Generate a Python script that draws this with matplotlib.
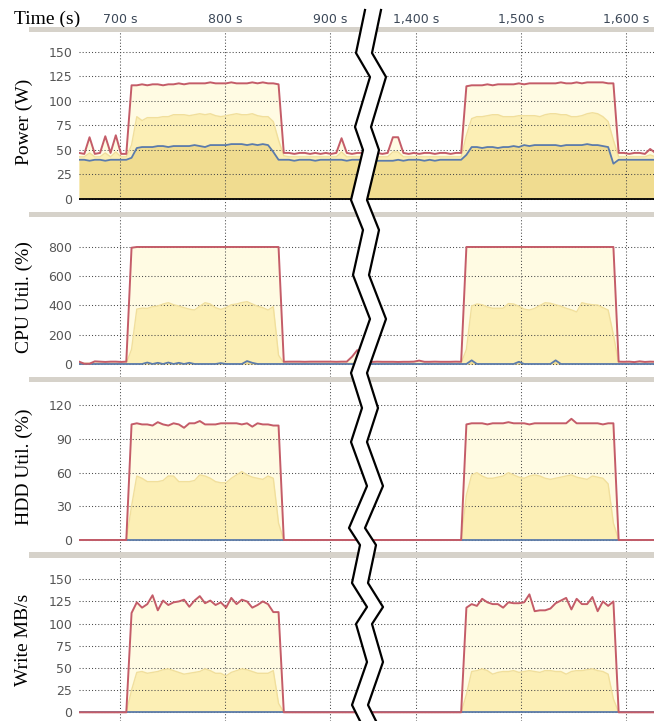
import numpy as np
import matplotlib.pyplot as plt
from matplotlib.patches import Rectangle

# sampling times (s) of the two windows shown
t_left = np.arange(661, 942, 5)
t_right = np.arange(1348, 1629, 5)

# ---- Power (W) ----
power_max_l = [47, 46, 63, 46, 47, 64, 47, 65, 46, 46,
               116, 116, 117, 116, 117, 117, 116, 117, 117, 118, 117, 118, 118, 118, 118,
               119, 118, 118, 118, 119, 118, 118, 118, 119, 118, 119, 118, 118, 117,
               47, 47, 46, 47, 47, 46, 47, 46, 47, 46, 47, 62, 47, 46, 47, 47, 46, 47]
power_mean_l = [43, 43, 47, 43, 43, 47, 43, 48, 43, 43,
                55, 84, 80, 83, 83, 83, 84, 84, 86, 86, 86, 85, 86, 87, 86,
                87, 85, 84, 85, 86, 87, 86, 86, 87, 85, 84, 84, 79, 60,
                44, 43, 43, 43, 43, 43, 43, 43, 43, 43, 43, 48, 43, 43, 43, 43, 43, 43]
power_min_l = [40, 40, 39, 40, 40, 39, 40, 40, 40, 40,
               42, 52, 53, 53, 53, 54, 54, 53, 54, 54, 54, 54, 55, 54, 53,
               55, 55, 55, 55, 56, 56, 56, 55, 56, 55, 56, 55, 48, 40,
               40, 40, 39, 40, 40, 40, 39, 40, 40, 40, 40, 40, 39, 40, 40, 40, 40, 40]
power_max_r = [47, 46, 47, 47, 46, 47, 63, 63, 47, 46, 47, 46, 47, 47, 46, 47, 47, 46, 47, 47,
               115, 116, 116, 116, 117, 116, 117, 117, 117, 117, 118, 117, 118, 118, 118,
               118, 118, 118, 119, 118, 118, 119, 118, 119, 119, 119, 119, 118, 118,
               47, 47, 46, 47, 47, 46, 51, 47]
power_mean_r = [43, 43, 43, 43, 43, 43, 48, 48, 43, 43, 43, 43, 43, 43, 43, 43, 43, 43, 43, 43,
                65, 82, 84, 84, 85, 86, 86, 84, 84, 84, 85, 85, 85, 85, 84,
                86, 87, 87, 86, 86, 84, 84, 85, 87, 88, 87, 84, 79, 60,
                43, 43, 43, 43, 43, 43, 45, 43]
power_min_r = [39, 39, 40, 39, 39, 39, 39, 40, 39, 40, 40, 40, 39, 40, 39, 40, 40, 40, 40, 40,
               45, 53, 53, 52, 53, 53, 52, 53, 53, 54, 53, 55, 54, 55, 55,
               55, 55, 55, 54, 55, 55, 55, 55, 56, 55, 55, 54, 53, 36,
               40, 40, 40, 40, 40, 40, 40, 40]

# ---- CPU Util. (%) ----
cpu_max_l = [16, 2, 2, 18, 16, 14, 16, 16, 14, 16,
             795, 800, 800, 800, 800, 800, 800, 800, 800, 800, 800, 800, 800, 800, 800,
             800, 800, 800, 800, 800, 800, 800, 800, 800, 800, 800, 800, 800, 800,
             15, 16, 16, 16, 15, 16, 16, 16, 16, 16, 15, 16, 16, 50, 95, 20, 15, 16]
cpu_mean_l = [5, 5, 5, 5, 5, 5, 5, 5, 5, 5,
              100, 375, 382, 380, 392, 396, 410, 419, 405, 396, 385, 375, 369, 395, 419,
              410, 385, 373, 385, 405, 410, 420, 426, 410, 395, 385, 369, 392, 60,
              5, 5, 5, 5, 5, 5, 5, 5, 5, 5, 5, 5, 5, 5, 5, 5, 5, 5]
cpu_min_l = [0, 0, 0, 0, 0, 0, 0, 0, 0, 0,
             0, 0, 0, 10, 0, 8, 0, 10, 0, 8, 0, 8, 0, 0, 0,
             0, 0, 6, 0, 0, 0, 0, 20, 8, 0, 0, 0, 0, 0,
             0, 0, 0, 0, 0, 0, 0, 0, 0, 0, 0, 0, 0, 0, 0, 0, 0, 0]
cpu_max_r = [15, 15, 14, 16, 15, 15, 15, 14, 15, 15, 16, 23, 15, 15, 16, 15, 15, 15, 16, 15,
             800, 800, 800, 800, 800, 800, 800, 800, 800, 800, 800, 800, 800, 800, 800,
             800, 800, 800, 800, 800, 800, 800, 800, 800, 800, 800, 800, 800, 800,
             16, 15, 16, 13, 18, 14, 16, 15]
cpu_mean_r = [5, 5, 5, 5, 5, 5, 5, 5, 5, 5, 5, 5, 5, 5, 5, 5, 5, 5, 5, 5,
              100, 396, 410, 405, 390, 381, 381, 381, 413, 410, 395, 375, 369, 380, 400,
              419, 415, 405, 395, 381, 370, 356, 419, 410, 405, 403, 385, 369, 200,
              5, 5, 5, 5, 5, 5, 5, 5]
cpu_min_r = [0, 0, 0, 0, 0, 0, 0, 0, 0, 0, 0, 0, 0, 0, 0, 0, 0, 0, 0, 0,
             0, 25, 0, 0, 0, 0, 0, 0, 0, 0, 15, 0, 0, 0, 0,
             0, 0, 25, 0, 0, 0, 0, 0, 0, 0, 0, 0, 0, 0,
             0, 0, 0, 0, 0, 0, 0, 0]

# ---- HDD Util. (%) ----
hdd_max_l = [0, 0, 0, 0, 0, 0, 0, 0, 0, 0,
             103, 104, 103, 103, 102, 105, 103, 102, 104, 103, 100, 104, 104, 106, 103,
             103, 103, 104, 104, 104, 104, 103, 104, 101, 104, 103, 103, 102, 102,
             0, 0, 0, 0, 0, 0, 0, 0, 0, 0, 0, 0, 0, 0, 0, 0, 0, 0]
hdd_mean_l = [0, 0, 0, 0, 0, 0, 0, 0, 0, 0,
              30, 57, 55, 52, 52, 52, 53, 57, 57, 52, 52, 52, 53, 58, 57,
              55, 52, 51, 51, 55, 58, 61, 58, 56, 55, 54, 57, 55, 15,
              0, 0, 0, 0, 0, 0, 0, 0, 0, 0, 0, 0, 0, 0, 0, 0, 0, 0]
hdd_max_r = [0, 0, 0, 0, 0, 0, 0, 0, 0, 0, 0, 0, 0, 0, 0, 0, 0, 0, 0, 0,
             103, 104, 104, 104, 103, 104, 104, 104, 105, 104, 104, 104, 103, 104, 104,
             104, 104, 104, 104, 104, 108, 104, 104, 104, 104, 104, 103, 104, 104,
             0, 0, 0, 0, 0, 0, 0, 0]
hdd_mean_r = [0, 0, 0, 0, 0, 0, 0, 0, 0, 0, 0, 0, 0, 0, 0, 0, 0, 0, 0, 0,
              40, 58, 60, 57, 55, 55, 56, 57, 60, 58, 56, 55, 57, 58, 57,
              55, 54, 55, 56, 57, 58, 56, 55, 54, 57, 56, 55, 50, 15,
              0, 0, 0, 0, 0, 0, 0, 0]
hdd_min_l = [0] * len(t_left)
hdd_min_r = [0] * len(t_right)

# ---- Write MB/s ----
write_max_l = [0, 0, 0, 0, 0, 0, 0, 0, 0, 0,
               112, 124, 118, 122, 132, 115, 126, 121, 124, 125, 127, 119, 126, 131, 123,
               126, 121, 124, 118, 129, 122, 127, 125, 118, 121, 125, 122, 113, 113,
               0, 0, 0, 0, 0, 0, 0, 0, 0, 0, 0, 0, 0, 0, 0, 0, 0, 0]
write_mean_l = [0, 0, 0, 0, 0, 0, 0, 0, 0, 0,
                25, 45, 46, 44, 45, 46, 48, 49, 47, 45, 43, 44, 45, 46, 49,
                47, 44, 44, 41, 45, 47, 49, 48, 46, 44, 44, 44, 47, 10,
                0, 0, 0, 0, 0, 0, 0, 0, 0, 0, 0, 0, 0, 0, 0, 0, 0, 0]
write_max_r = [0, 0, 0, 0, 0, 0, 0, 0, 0, 0, 0, 0, 0, 0, 0, 0, 0, 0, 0, 0,
               118, 122, 120, 128, 124, 122, 122, 118, 124, 123, 123, 124, 133, 114, 115,
               115, 117, 123, 126, 129, 116, 128, 122, 122, 130, 114, 125, 120, 125,
               0, 0, 0, 0, 0, 0, 0, 0]
write_mean_r = [0, 0, 0, 0, 0, 0, 0, 0, 0, 0, 0, 0, 0, 0, 0, 0, 0, 0, 0, 0,
                20, 46, 47, 49, 47, 43, 45, 46, 46, 47, 45, 46, 47, 46, 45,
                47, 47, 46, 46, 43, 46, 47, 47, 48, 49, 47, 46, 43, 15,
                0, 0, 0, 0, 0, 0, 0, 0]
write_min_l = [0] * len(t_left)
write_min_r = [0] * len(t_right)

labels = ['Power (W)', 'CPU Util. (%)', 'HDD Util. (%)', 'Write MB/s']
yticks = [[0, 25, 50, 75, 100, 125, 150], [0, 200, 400, 600, 800],
          [0, 30, 60, 90, 120], [0, 25, 50, 75, 100, 125, 150]]
xticks_l = [700, 800, 900]
xticks_r = [1400, 1500, 1600]

left_data = [(power_max_l, power_mean_l, power_min_l), (cpu_max_l, cpu_mean_l, cpu_min_l),
             (hdd_max_l, hdd_mean_l, hdd_min_l), (write_max_l, write_mean_l, write_min_l)]
right_data = [(power_max_r, power_mean_r, power_min_r), (cpu_max_r, cpu_mean_r, cpu_min_r),
              (hdd_max_r, hdd_mean_r, hdd_min_r), (write_max_r, write_mean_r, write_min_r)]

# layout in pixels
W, H = 654, 721
rows_px = [(32, 212), (217, 377), (382, 552), (558, 721)]
ylims = [(-13.3, 170.4), (-89, 1005), (-10.7, 140.8), (-9.8, 174)]
bars_px = [(27, 32), (212, 217), (377, 382), (552, 558)]
pxs = 1.05  # pixels per second
xl0, xl1 = 79, 371
xr0, xr1 = 365, 654
xlim_l = (700 - (120 - xl0) / pxs, 700 + (xl1 - 120) / pxs)
xlim_r = (1400 - (416 - xr0) / pxs, 1400 + (xr1 - 416) / pxs)

C_TOP = '#fffbe3'
C_MID = '#fcefb5'
C_LOW = '#f0dc90'
C_RED = '#c45c68'
C_BLUE = '#5b7bab'
C_MEANLINE = '#f1df9c'

fig = plt.figure(figsize=(W / 100, H / 100), dpi=100)


def draw(ax, t, vmax, vmean, vmin):
    ax.fill_between(t, 0, vmax, color=C_TOP, lw=0, zorder=1.0)
    ax.fill_between(t, 0, vmean, color=C_MID, lw=0, zorder=1.1)
    ax.fill_between(t, 0, vmin, color=C_LOW, lw=0, zorder=1.2)
    ax.plot(t, vmean, color=C_MEANLINE, lw=1.0, zorder=2)
    ax.plot(t, vmin, color=C_BLUE, lw=1.3, zorder=2.1)
    ax.plot(t, vmax, color=C_RED, lw=1.4, zorder=2.2)


for i, (top, bot) in enumerate(rows_px):
    for side in ('l', 'r'):
        x0, x1 = (xl0, xl1) if side == 'l' else (xr0, xr1)
        ax = fig.add_axes([x0 / W, 1 - bot / H, (x1 - x0) / W, (bot - top) / H])
        ax.patch.set_alpha(0)
        for s in ax.spines.values():
            s.set_visible(False)
        if side == 'l':
            draw(ax, t_left, *left_data[i])
            ax.set_xlim(*xlim_l)
            ticks = xticks_l
        else:
            draw(ax, t_right, *right_data[i])
            ax.set_xlim(*xlim_r)
            ticks = xticks_r
        ax.set_ylim(*ylims[i])
        ax.set_yticks(yticks[i])
        ax.set_xticks(ticks)
        ax.set_axisbelow('line')
        ax.grid(True, ls=(0, (1, 2)), color='#4a4a4a', lw=0.75)
        ax.tick_params(length=0, labelsize=9, labelcolor='#555555', pad=5)
        if side == 'r':
            ax.tick_params(labelleft=False)
        if i == 0:
            ax.tick_params(axis='x', top=True, labeltop=True, bottom=False,
                           labelbottom=False, pad=4.5, labelcolor='#3c4858')
            ax.set_xticklabels([f'{v:,} s' for v in ticks])
            ax.axhline(0, color='black', lw=1.3, zorder=3)
        else:
            ax.tick_params(axis='x', labelbottom=False)
    fig.text(24 / W, 1 - (top + bot) / 2 / H, labels[i], rotation=90, ha='center',
             va='center', family='Liberation Serif', fontsize=14)

fig.text(14 / W, 1 - 19 / H, 'Time (s)', ha='left', va='center',
         family='Liberation Serif', fontsize=14)

# overlay: separator bars and the axis break
ov = fig.add_axes([0, 0, 1, 1], zorder=10)
ov.set_xlim(0, W)
ov.set_ylim(H, 0)
ov.axis('off')
ov.patch.set_alpha(0)
for y0, y1 in bars_px:
    ov.add_patch(Rectangle((29, y0), W - 29, y1 - y0, color='#d6d2ca', lw=0))

zig_x = np.array([365, 356, 370, 355, 363, 351, 363, 353, 370, 351, 362, 351, 367, 349,
                  360, 352, 367, 356, 367, 352, 360])
zig_y = np.array([10, 53, 77, 127, 150, 200, 230, 275, 319, 373, 408, 442, 486, 528,
                  545, 583, 607, 624, 662, 705, 721])
gap = 16
ov.fill(np.r_[zig_x, zig_x[::-1] + gap], np.r_[zig_y, zig_y[::-1]], color='white', lw=0)
ov.plot(zig_x, zig_y, color='black', lw=1.6)
ov.plot(zig_x + gap, zig_y, color='black', lw=1.6)

fig.savefig('out.png', dpi=100)
